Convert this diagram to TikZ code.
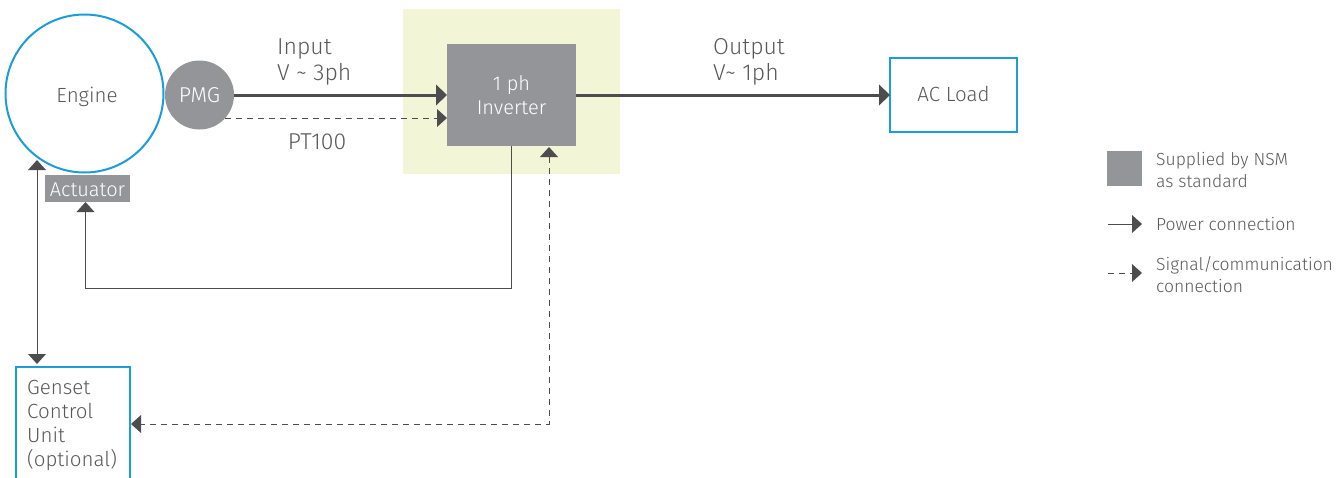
\documentclass[tikz,border=0pt]{standalone}
\usepackage{fontspec}
\setmainfont{Fira Sans Light}
\usetikzlibrary{arrows.meta,calc}
\definecolor{nsmgray}{HTML}{939598}
\definecolor{dark}{HTML}{4D4D4F}
\definecolor{txt}{HTML}{58595B}
\definecolor{nsmblue}{HTML}{1B9DD9}
\definecolor{paleyellow}{HTML}{F2F5D6}
\tikzset{
  x=1pt,y=-1pt,
  lab/.style={text=txt,font=\fontsize{23}{26}\selectfont,align=left,inner sep=0pt},
  whitelab/.style={text=white,font=\fontsize{20}{24}\selectfont,align=center,inner sep=0pt},
  bluetext/.style={text=txt,font=\fontsize{20.5}{24}\selectfont,inner sep=0pt},
  bluebox/.style={draw=nsmblue,line width=2pt,fill=white,inner sep=0pt,outer sep=0pt,bluetext},
  graybox/.style={fill=nsmgray,inner sep=0pt,outer sep=0pt},
  leglab/.style={text=txt,font=\fontsize{17.5}{22.5}\selectfont,align=left,inner sep=0pt,anchor=west},
  power/.style={draw=dark,line width=3pt,-{Triangle[length=11pt,width=21pt,line width=0pt]}},
  sig/.style={draw=dark,line width=1pt,dash pattern=on 6pt off 5pt,-{Triangle[length=10pt,width=18pt,line width=0pt]}},
  sigboth/.style={draw=dark,line width=1pt,dash pattern=on 6pt off 5pt,{Triangle[length=10pt,width=18pt,line width=0pt]}-{Triangle[length=10pt,width=18pt,line width=0pt]}},
  ctl/.style={draw=dark,line width=1pt,-{Triangle[length=10pt,width=18pt,line width=0pt]}},
  ctlboth/.style={draw=dark,line width=1pt,{Triangle[length=10pt,width=18pt,line width=0pt]}-{Triangle[length=10pt,width=18pt,line width=0pt]}},
}
\begin{document}
\begin{tikzpicture}
\useasboundingbox (0,0) rectangle (1344,477);
\clip (0,0) rectangle (1344,477);
\fill[paleyellow] (403,9) rectangle (620,174);
\node[bluebox,circle,minimum size=158pt] (engine) at (84.5,93.5) {};
\node[bluetext] (enginelab) at (87,96.5) {Engine};
\node[graybox,circle,minimum size=69pt,whitelab,font=\fontsize{21.5}{24}\selectfont] (pmg) at (199.5,95) {PMG};
\node[graybox,minimum width=129pt,minimum height=102pt,whitelab] (inv) at (511.5,95) {1 ph\\Inverter};
\node[bluebox,minimum width=127pt,minimum height=74pt] (load) at (953.5,94.5) {};
\node[bluetext] (loadlab) at (953.5,94) {AC Load};
\node[graybox,minimum width=85pt,minimum height=27pt] (act) at (87.5,188) {};
\node[whitelab] (actlab) at (87.5,189.5) {Actuator};
\node[bluebox,minimum width=114pt,minimum height=114pt,anchor=north west] (gen) at (16,367) {};
\node[bluetext,align=left,anchor=north west] (gentext) at (27,380) {Genset\\Control\\Unit\\(optional)};

\node[lab,anchor=north west] (inlab) at (277,38.5) {Input\\V \textasciitilde{} 3ph};
\node[lab,anchor=center] (ptlab) at (317,142) {PT100};
\node[lab,anchor=north west] (outlab) at (713,38.5) {Output\\V\textasciitilde{} 1ph};

\draw[power] (pmg.east) -- (inv.west);
\draw[power] (inv.east) -- (inv.east -| load.west);
\coordinate (ptstart) at (225,118);
\draw[sig] (ptstart) -- (ptstart -| inv.west);
\coordinate (invctl) at (inv.south);
\coordinate (actin) at (85.5,202);
\draw[ctl] (invctl) |- (actin |- 0,288) -- (actin);
\coordinate (invsig) at (549,147);
\coordinate (gensig) at (131,424);
\draw[sigboth] (invsig) |- (gensig);
\coordinate (engctl) at (37,160);
\coordinate (genctl) at (37,364);
\draw[ctlboth] (engctl) -- (genctl);

% legend
\node[graybox,minimum size=35pt] (legbox) at (1124.5,168.5) {};
\node[leglab] (l1) at (1156,170) {Supplied by NSM\\as standard};
\coordinate (p1) at (1108,224);
\coordinate (p2) at (1142,224);
\draw[ctl] (p1) -- (p2);
\node[leglab] (l2) at (1156,224) {Power connection};
\coordinate (s1) at (1108,273);
\coordinate (s2) at (1142,273);
\draw[sig] (s1) -- (s2);
\node[leglab] (l3) at (1156,274.5) {Signal/communication\\connection};
\end{tikzpicture}
\end{document}
